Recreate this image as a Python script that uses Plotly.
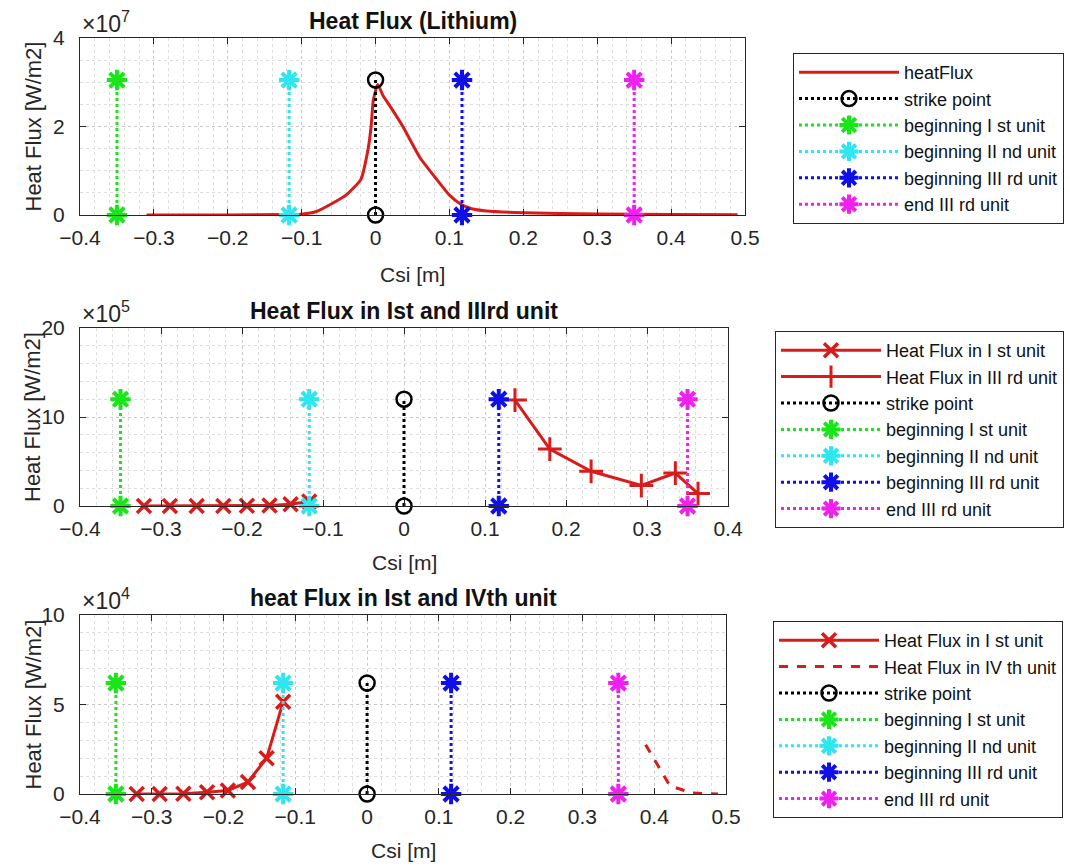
import plotly.graph_objects as go

# ---- data ----------------------------------------------------------------
# Full heat-flux profile along the target (W/m2)
csi_profile = [-0.31, -0.2, -0.12, -0.1, -0.08, -0.06, -0.04, -0.02, -0.01, -0.006,
               -0.003, 0.003, 0.01, 0.02, 0.037, 0.06, 0.083, 0.1, 0.115, 0.13,
               0.15, 0.2, 0.3, 0.4, 0.49]
q_profile = [0.0, 0.0, 0.01e7, 0.02e7, 0.08e7, 0.25e7, 0.45e7, 0.8e7, 1.5e7, 2.0e7,
             2.6e7, 2.95e7, 2.7e7, 2.45e7, 2.0e7, 1.3e7, 0.8e7, 0.45e7, 0.25e7, 0.14e7,
             0.09e7, 0.05e7, 0.02e7, 0.01e7, 0.005e7]

# Heat flux sampled on the Ist unit
csi_unit1 = [-0.321, -0.289, -0.256, -0.223, -0.194, -0.166, -0.140, -0.117]
q_unit1 = [0.0, 50.0, 200.0, 1000.0, 2000.0, 6700.0, 20000.0, 51500.0]

# Heat flux sampled on the IIIrd unit
csi_unit3 = [0.137, 0.180, 0.231, 0.293, 0.335, 0.363]
q_unit3 = [11.9e5, 6.4e5, 3.9e5, 2.3e5, 3.7e5, 1.4e5]

# Heat flux on the IVth unit
csi_unit4 = [0.388, 0.422, 0.454, 0.489]
q_unit4 = [2.75e4, 0.45e4, 0.05e4, 0.0]

# Reference positions along the target
marker_names = ["strike point", "beginning I st unit", "beginning II nd unit",
                "beginning III rd unit", "end III rd unit"]
marker_csi = [0.0, -0.35, -0.117, 0.117, 0.35]
marker_colors = ["#000000", "#19e619", "#2ee6f0", "#1010e6", "#f020f0"]
marker_symbols = ["circle-open", "asterisk-open", "asterisk-open",
                  "asterisk-open", "asterisk-open"]

# Height of the reference markers in each panel
marker_top = [3.05e7, 12e5, 6.2e4]

# Axis ranges and tick labels
x_ranges = [[-0.4, 0.5], [-0.4, 0.4], [-0.4, 0.5]]
y_ranges = [[0, 4e7], [0, 20e5], [0, 10e4]]
y_tickvals = [[0, 2e7, 4e7], [0, 10e5, 20e5], [0, 5e4, 10e4]]
y_ticktext = [["0", "2", "4"], ["0", "10", "20"], ["0", "5", "10"]]
y_minor = [0.5e7, 2e5, 1e4]
exponents = ["7", "5", "4"]
titles = ["Heat Flux (Lithium)", "Heat Flux in Ist and IIIrd unit",
          "heat Flux in Ist and IVth unit"]

# ---- layout geometry (paper fractions) ------------------------------------
W, H = 1070, 868
x_domains = [[80 / W, 745 / W], [80 / W, 728 / W], [80 / W, 726 / W]]
y_domains = [[1 - 215 / H, 1 - 38 / H], [1 - 506 / H, 1 - 328 / H], [1 - 794 / H, 1 - 615 / H]]
legend_pos = [(793 / W, 1 - 53 / H), (775 / W, 1 - 331 / H), (773 / W, 1 - 621 / H)]
xlabel_y = [1 - 274 / H, 1 - 562 / H, 1 - 850 / H]

FONT = "Liberation Sans, Arial, Helvetica, sans-serif"
RED = "#d81c1c"
AX = "#262626"

fig = go.Figure()


def add_trace(panel, **kw):
    suffix = "" if panel == 0 else str(panel + 1)
    fig.add_trace(go.Scatter(xaxis="x" + suffix, yaxis="y" + suffix,
                             legend="legend" + suffix, cliponaxis=False, **kw))


def add_reference_lines(panel):
    top = marker_top[panel]
    for name, xc, col, sym in zip(marker_names, marker_csi, marker_colors, marker_symbols):
        is_circle = sym == "circle-open"
        add_trace(panel, x=[xc, xc], y=[0, top], name=name, legendgroup=f"{panel}{name}",
                  mode="lines+markers",
                  line=dict(color=col, width=3, dash="dot"),
                  marker=dict(symbol=sym, size=15 if is_circle else 17, color=col,
                              line=dict(color=col, width=2.5 if is_circle else 4)))


# Panel 1: full profile
add_trace(0, x=csi_profile, y=q_profile, name="heatFlux", legendgroup="0hf", mode="lines",
          line=dict(color=RED, width=3, shape="spline", smoothing=0.5))
add_reference_lines(0)

# Panel 2: Ist and IIIrd unit
add_trace(1, x=csi_unit1, y=q_unit1, name="Heat Flux in I st unit", legendgroup="1u1",
          mode="lines+markers", line=dict(color=RED, width=3),
          marker=dict(symbol="x-thin-open", size=14, color=RED, line=dict(color=RED, width=3.5)))
add_trace(1, x=csi_unit3, y=q_unit3, name="Heat Flux in III rd unit", legendgroup="1u3",
          mode="lines+markers", line=dict(color=RED, width=3),
          marker=dict(symbol="cross-thin-open", size=17, color=RED, line=dict(color=RED, width=3)))
add_reference_lines(1)

# Panel 3: Ist and IVth unit
add_trace(2, x=csi_unit1, y=q_unit1, name="Heat Flux in I st unit", legendgroup="2u1",
          mode="lines+markers", line=dict(color=RED, width=3),
          marker=dict(symbol="x-thin-open", size=14, color=RED, line=dict(color=RED, width=3.5)))
add_trace(2, x=csi_unit4, y=q_unit4, name="Heat Flux in IV th unit", legendgroup="2u4",
          mode="lines", line=dict(color=RED, width=3, dash="dash"))
add_reference_lines(2)

layout = dict(
    width=W, height=H, margin=dict(l=0, r=0, t=0, b=0, autoexpand=False),
    paper_bgcolor="white", plot_bgcolor="white",
    font=dict(family=FONT, color=AX, size=19),
    showlegend=True,
)

annotations = []
for i in range(3):
    suffix = "" if i == 0 else str(i + 1)
    layout["xaxis" + suffix] = dict(
        domain=x_domains[i], range=x_ranges[i], anchor="y" + suffix, automargin=False,
        dtick=0.1, tick0=0, tickformat="~g",
        showline=True, linecolor=AX, linewidth=1, mirror="ticks",
        ticks="inside", ticklen=6, tickcolor=AX, ticklabelstandoff=4,
        showgrid=True, gridcolor="#c8c8c8", griddash="dot", gridwidth=1,
        minor=dict(dtick=0.02, showgrid=True, gridcolor="#dedede", griddash="dot", ticks=""),
        zeroline=False, tickfont=dict(size=21, color=AX), fixedrange=True,
    )
    layout["yaxis" + suffix] = dict(
        domain=y_domains[i], range=y_ranges[i], anchor="x" + suffix, automargin=False,
        tickvals=y_tickvals[i], ticktext=y_ticktext[i],
        showline=True, linecolor=AX, linewidth=1, mirror="ticks",
        ticks="inside", ticklen=6, tickcolor=AX, ticklabelstandoff=10,
        showgrid=True, gridcolor="#c8c8c8", griddash="dot", gridwidth=1,
        minor=dict(dtick=y_minor[i], tick0=0, showgrid=True, gridcolor="#dedede",
                   griddash="dot", ticks=""),
        zeroline=False, tickfont=dict(size=21, color=AX), fixedrange=True,
    )
    lx, ly = legend_pos[i]
    layout["legend" + suffix] = dict(
        x=lx, y=ly, xanchor="left", yanchor="top",
        bordercolor=AX, borderwidth=1, bgcolor="white",
        font=dict(size=18, color="#111111", family=FONT),
        tracegroupgap=0, itemwidth=100, traceorder="grouped",
    )
    xc = (x_domains[i][0] + x_domains[i][1]) / 2
    annotations.append(dict(text=f"<b>{titles[i]}</b>", x=xc, y=y_domains[i][1],
                            xref="paper", yref="paper", xanchor="center", yanchor="bottom",
                            yshift=2, showarrow=False, font=dict(size=23, color="#111111")))
    annotations.append(dict(text=f"×10<sup>{exponents[i]}</sup>", x=x_domains[i][0],
                            y=y_domains[i][1], xref="paper", yref="paper",
                            xanchor="left", yanchor="bottom", yshift=-1, showarrow=False,
                            font=dict(size=23, color=AX)))
    annotations.append(dict(text="Csi [m]", x=xc, y=xlabel_y[i], xref="paper", yref="paper",
                            xanchor="center", yanchor="middle", showarrow=False,
                            font=dict(size=21, color=AX)))
    annotations.append(dict(text="Heat Flux [W/m2]", x=33 / W,
                            y=(y_domains[i][0] + y_domains[i][1]) / 2,
                            xref="paper", yref="paper", xanchor="center", yanchor="middle",
                            textangle=-90, showarrow=False, font=dict(size=22, color=AX)))

layout["annotations"] = annotations
fig.update_layout(**layout)

fig.write_html("out.html")
